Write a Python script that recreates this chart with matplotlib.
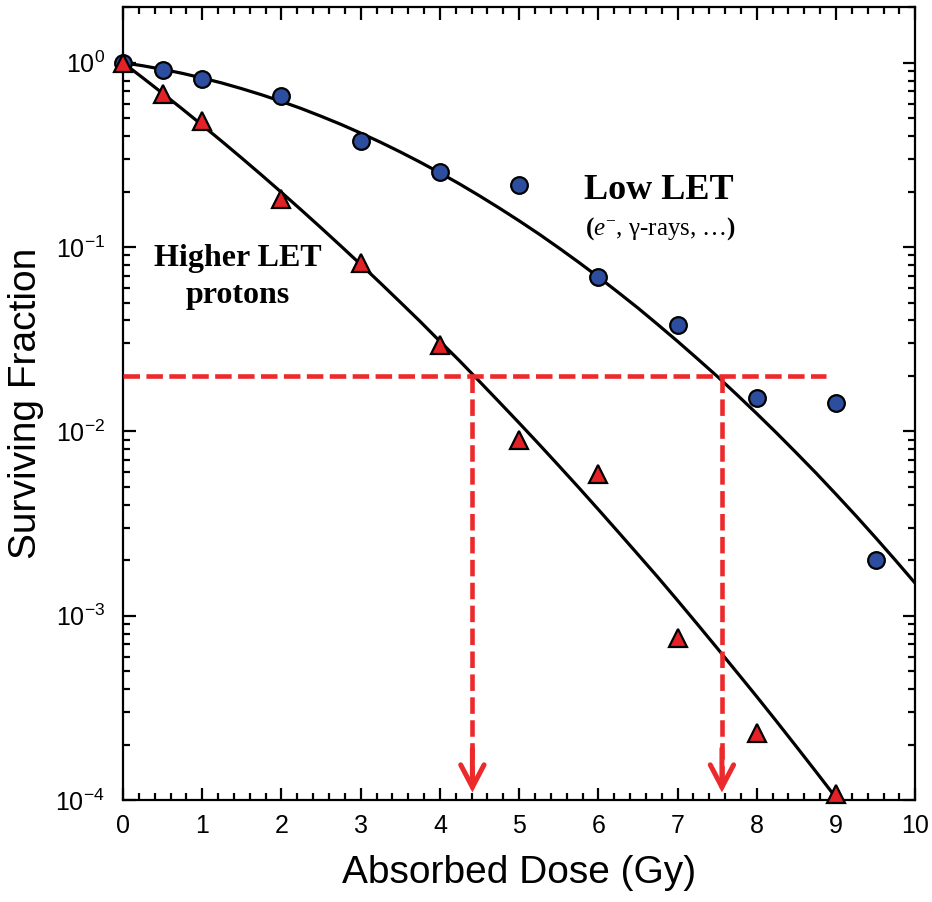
import matplotlib
matplotlib.use("Agg")
import matplotlib.pyplot as plt
import numpy as np

# ---- data ----
dose_low = [0, 0.5, 1, 2, 3, 4, 5, 6, 7, 8, 9, 9.5]
sf_low = [1.0, 0.917, 0.819, 0.662, 0.378, 0.256, 0.218, 0.069, 0.0376, 0.0152, 0.0143, 0.0020]

dose_high = [0, 0.5, 1, 2, 3, 4, 5, 6, 7, 8, 9]
sf_high = [1.0, 0.679, 0.485, 0.183, 0.0824, 0.0296, 0.0090, 0.00585, 0.000753, 0.000230, 0.000108]

# fitted curves
curve_dose = [0, 0.25, 0.5, 0.75, 1, 1.25, 1.5, 1.75, 2, 2.25, 2.5, 2.75, 3, 3.25, 3.5, 3.75,
              4, 4.25, 4.5, 4.75, 5, 5.25, 5.5, 5.75, 6, 6.25, 6.5, 6.75, 7, 7.25, 7.5, 7.75,
              8, 8.25, 8.5, 8.75, 9, 9.25, 9.5, 9.75, 10]
curve_low = [1.0, 0.9626, 0.9206, 0.8753, 0.8261, 0.7757, 0.7227, 0.6698, 0.6163, 0.5642,
             0.5123, 0.4630, 0.4152, 0.3704, 0.3280, 0.2888, 0.2526, 0.2197, 0.1896, 0.1627,
             0.1388, 0.1177, 0.0990, 0.0828, 0.0688, 0.0568, 0.0467, 0.0380, 0.0308, 0.0248,
             0.0199, 0.0158, 0.01248, 0.00980, 0.00764, 0.00593, 0.00456, 0.00349, 0.00265,
             0.00200, 0.00150]
curve_high = [1.0, 0.8275, 0.6821, 0.5602, 0.4584, 0.3737, 0.3035, 0.2456, 0.1979, 0.1589,
              0.1271, 0.1013, 0.0805, 0.0637, 0.0502, 0.0395, 0.0308, 0.0241, 0.01865, 0.01441,
              0.01111, 0.00853, 0.00652, 0.00497, 0.00377, 0.00285, 0.00215, 0.00162, 0.00121,
              0.000900, 0.000667, 0.000493, 0.000364, 0.000267, 0.000195, 0.000142, 0.000103,
              0.0000745, 0.0000537]

iso_level = 0.02
iso_dose_high = 4.41
iso_dose_low = 7.56
iso_line_end = 8.88

xticks = [0, 1, 2, 3, 4, 5, 6, 7, 8, 9, 10]

# ---- styling ----
plt.rcParams['font.family'] = ['Liberation Sans', 'DejaVu Sans']
plt.rcParams['mathtext.fontset'] = 'custom'
plt.rcParams['mathtext.rm'] = 'Liberation Serif'
plt.rcParams['mathtext.it'] = 'Liberation Serif:italic'
plt.rcParams['mathtext.bf'] = 'Liberation Serif:bold'

RED = '#EC2A2C'
BLUE = '#2D4E9F'
TRI_RED = '#E42126'

fig = plt.figure(figsize=(9.32, 9.02), dpi=100)
ax = fig.add_axes([0.132, 0.113, 0.850, 0.879])

ax.set_yscale('log')
ax.set_xlim(0, 10)
ax.set_ylim(1e-4, 2.0)

# curves
ax.plot(curve_dose, curve_low, color='black', lw=2.3, zorder=2)
ax.plot(curve_dose[:len(curve_high)], curve_high, color='black', lw=2.3, zorder=2)

# iso-effect dashed lines
dash_kw = dict(color=RED, lw=3.3, dashes=(3.6, 1.4), zorder=3, solid_capstyle='butt')
ax.plot([0, iso_line_end], [iso_level, iso_level], **dash_kw)
for xd in (iso_dose_high, iso_dose_low):
    ax.plot([xd, xd], [iso_level, 1.3e-4], **dash_kw)
    ax.annotate('', xy=(xd, 1.1e-4), xytext=(xd, 1.9e-4),
                arrowprops=dict(arrowstyle='->,head_length=0.8,head_width=0.42',
                                mutation_scale=20, color=RED, lw=3.6,
                                shrinkA=0, shrinkB=0, joinstyle='miter'),
                zorder=3)

# markers
ax.plot(dose_low, sf_low, 'o', ms=12, mfc=BLUE, mec='black', mew=1.6, zorder=4, clip_on=False)
ax.plot(dose_high, sf_high, '^', ms=13, mfc=TRI_RED, mec='black', mew=1.6, zorder=5, clip_on=False)

# texts
ax.text(6.76, 0.202, 'Low LET', family='Liberation Serif', fontweight='bold', fontsize=26,
        ha='center', va='center')
ax.text(6.78, 0.126, r'$\mathbf{(}\mathit{e}^{-}$, γ-rays, …$\mathbf{)}$', family='Liberation Serif',
        fontsize=18, ha='center', va='center')
ax.text(1.45, 0.069, 'Higher LET\nprotons', family='Liberation Serif', fontweight='bold',
        fontsize=23, ha='center', va='center', linespacing=1.38)

# axes styling
for s in ax.spines.values():
    s.set_linewidth(1.6)
ax.set_xticks(xticks)
ax.set_xticklabels([str(t) for t in xticks])
ax.xaxis.set_minor_locator(matplotlib.ticker.MultipleLocator(0.2))
ax.yaxis.set_minor_locator(matplotlib.ticker.LogLocator(base=10, subs=np.arange(2, 10), numticks=20))
ax.yaxis.set_minor_formatter(matplotlib.ticker.NullFormatter())
ax.tick_params(which='both', direction='in', top=True, right=True, width=1.6)
ax.tick_params(which='major', length=9, labelsize=18, pad=10)
ax.tick_params(axis='y', which='major', pad=13)
ax.tick_params(which='minor', length=5)

ax.set_xlabel('Absorbed Dose (Gy)', fontsize=28, labelpad=12)
ax.set_ylabel('Surviving Fraction', fontsize=28, labelpad=8)

fig.savefig('out.png', dpi=100)
